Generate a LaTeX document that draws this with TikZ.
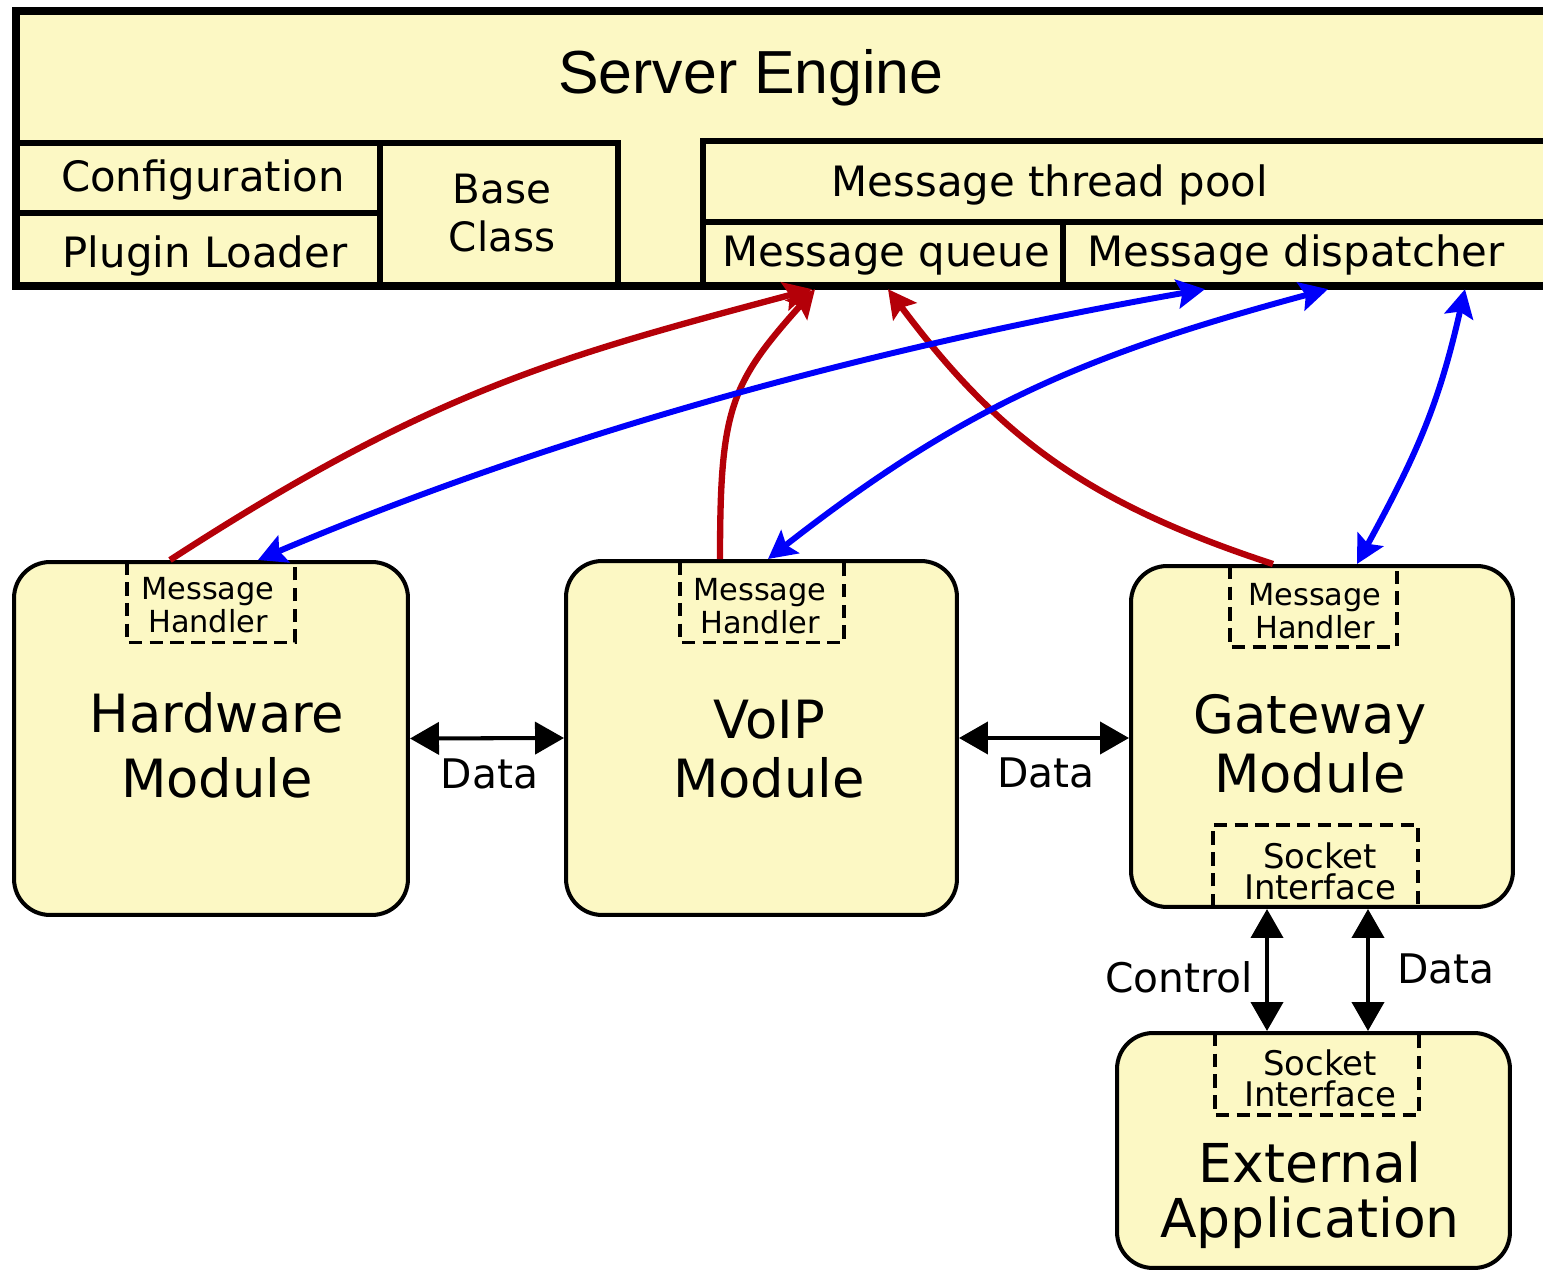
\documentclass[tikz,border=0pt]{standalone}
\usepackage{fontspec}
\setmainfont{DejaVu Sans}
\newfontfamily\titlefont{Liberation Sans}
\usetikzlibrary{arrows.meta,calc}
\definecolor{cream}{RGB}{252,248,196}
\definecolor{dred}{RGB}{180,0,8}
\definecolor{pblue}{RGB}{0,0,250}
\begin{document}
\begin{tikzpicture}[x=0.02cm, y=-0.02cm,
  enginebox/.style={fill=cream, inner sep=0pt, outer sep=0pt},
  cell/.style={draw, fill=cream, line width=3.6pt, inner sep=0pt},
  module/.style={draw, fill=cream, line width=2.3pt, rounded corners=0.72cm, inner sep=0pt},
  holder/.style={inner sep=0pt, outer sep=0pt},
  dashside/.style={line width=2pt, dash pattern=on 7.6pt off 4.2pt},
  titletext/.style={inner sep=0pt, anchor=base, font=\titlefont\fontsize{34.6}{40}\selectfont},
  midtext/.style={inner sep=0pt, anchor=base, font=\fontsize{23.8}{27}\selectfont},
  modtext/.style={inner sep=0pt, anchor=north, align=center, font=\fontsize{30}{33.5}\selectfont},
  handtext/.style={inner sep=0pt, anchor=north, align=center, font=\fontsize{17.3}{18.7}\selectfont},
  socktext/.style={inner sep=0pt, anchor=north, align=center, font=\fontsize{19.3}{18.1}\selectfont},
  labeltext/.style={inner sep=0pt, anchor=base, font=\fontsize{23.2}{27}\selectfont},
  dataarrow/.style={line width=2.3pt, {Triangle[length=0.58cm, width=0.64cm]}-{Triangle[length=0.58cm, width=0.64cm]}},
  redarrow/.style={draw=dred, line width=3.6pt, -{Stealth[length=0.56cm, width=0.58cm, inset=0.1cm]}},
  bluearrow/.style={draw=pblue, line width=3.4pt, {Stealth[length=0.56cm, width=0.58cm, inset=0.1cm]}-{Stealth[length=0.56cm, width=0.58cm, inset=0.1cm]}}
]
\useasboundingbox (0,0) rectangle (1543,1270);

% ---------- Server Engine ----------
\node[enginebox, minimum width=30.88cm, minimum height=5.5cm] (engine) at (788,148.5) {};
\node[cell, minimum width=7.28cm, minimum height=1.4cm] (config) at (198,178) {};
\node[cell, minimum width=7.28cm, minimum height=1.46cm] (plugin) at (198,249.5) {};
\node[cell, minimum width=4.76cm, minimum height=2.86cm] (base) at (499,214.5) {};
\node[cell, minimum width=17.14cm, minimum height=1.62cm] (pool) at (1131.5,181.5) {};
\node[cell, minimum width=7.2cm, minimum height=1.28cm] (queue) at (883,254) {};
\node[cell, minimum width=9.94cm, minimum height=1.28cm] (disp) at (1311.5,254) {};
\draw[line width=4.3pt] (engine.north west) rectangle (engine.south east);

\node[titletext] (title) at (751,94) {Server Engine};
\node[midtext] (configT) at (203,192) {Configuration};
\node[midtext] (pluginT) at (205,268) {Plugin Loader};
\node[midtext, anchor=north, align=center, font=\fontsize{23}{27.2}\selectfont] (baseT) at (502,174) {Base\\Class};
\node[midtext] (poolT) at (1050,197) {Message thread pool};
\node[midtext] (queueT) at (886,267) {Message queue};
\node[midtext] (dispT) at (1296,267) {Message dispatcher};

% ---------- Modules ----------
\node[module, minimum width=7.88cm, minimum height=7.06cm] (hw) at (211,738.5) {};
\node[module, minimum width=7.82cm, minimum height=7.08cm] (voip) at (761.5,738) {};
\node[module, minimum width=7.64cm, minimum height=6.82cm] (gw) at (1322,736.5) {};
\node[module, minimum width=7.86cm, minimum height=4.7cm] (ext) at (1313.5,1150.5) {};

\node[modtext, font=\fontsize{30}{37}\selectfont] (hwT) at (217,692) {Hardware\\Module};
\node[modtext] (voipT) at (769,700) {VoIP\\Module};
\node[modtext] (gwT) at (1310,694) {Gateway\\Module};
\node[modtext, font=\fontsize{30.5}{31.8}\selectfont] (extT) at (1310,1141) {External\\Application};

% ---------- Dashed sub boxes ----------
\node[holder, minimum width=3.36cm, minimum height=1.62cm] (hwh) at (211,602) {};
\node[holder, minimum width=3.28cm, minimum height=1.62cm] (voiph) at (762,602) {};
\node[holder, minimum width=3.34cm, minimum height=1.62cm] (gwh) at (1313.5,606.5) {};
\node[holder, minimum width=4.1cm, minimum height=1.64cm] (gws) at (1315.5,866) {};
\node[holder, minimum width=4.08cm, minimum height=1.64cm] (exts) at (1317,1074) {};

\draw[dashside] (hwh.north west) -- (hwh.south west) -- (hwh.south east) -- (hwh.north east);
\draw[dashside] (voiph.north west) -- (voiph.south west) -- (voiph.south east) -- (voiph.north east);
\draw[dashside] (gwh.north west) -- (gwh.south west) -- (gwh.south east) -- (gwh.north east);
\draw[dashside] (gws.south west) -- (gws.north west) -- (gws.north east) -- (gws.south east);
\draw[dashside] (exts.north west) -- (exts.south west) -- (exts.south east) -- (exts.north east);

\node[handtext] (hwhT) at (208,577) {Message\\Handler};
\node[handtext] (voiphT) at (760,578) {Message\\Handler};
\node[handtext] (gwhT) at (1315,583) {Message\\Handler};
\node[socktext] (gwsT) at (1320,842) {Socket\\Interface};
\node[socktext] (extsT) at (1320,1049) {Socket\\Interface};

% ---------- Data connectors ----------
\draw[dataarrow] (hw.east) -- (voip.west);
\draw[dataarrow] (voip.east) -- (voip.east -| gw.west);
\draw[dataarrow] ([xshift=-1.1cm]gw.south) -- ([xshift=-1.1cm]gw.south |- ext.north);
\draw[dataarrow] ([xshift=0.92cm]gw.south) -- ([xshift=0.92cm]gw.south |- ext.north);

\node[labeltext] (data1) at (489.5,788) {Data};
\node[labeltext] (data2) at (1046,787) {Data};
\node[labeltext] (control) at (1179,992) {Control};
\node[labeltext] (data3) at (1446,983) {Data};

% ---------- Message connectors ----------
\draw[redarrow] ([xshift=-0.82cm]hw.north) .. controls +(262,-170) and +(-251,67) .. ([xshift=-1.42cm]queue.south);
\draw[redarrow] ([xshift=-0.83cm]voip.north) .. controls +(0,-150) and +(-85,95) .. ([xshift=-1.36cm]queue.south);
\draw[redarrow] ([xshift=-0.98cm]gw.north) .. controls +(-190,-62) and +(108,144) .. ([xshift=0.1cm]queue.south);
\draw[bluearrow] ([xshift=0.94cm]hw.north) .. controls +(304,-129) and +(-325,57) .. ([xshift=-2.13cm]disp.south);
\draw[bluearrow] ([xshift=0.13cm]voip.north) .. controls +(197,-154) and +(-241,65) .. ([xshift=0.33cm]disp.south);
\draw[bluearrow] ([xshift=0.7cm]gw.north) .. controls +(60,-110) and +(-26,115) .. ([xshift=3.07cm]disp.south);
\end{tikzpicture}
\end{document}
